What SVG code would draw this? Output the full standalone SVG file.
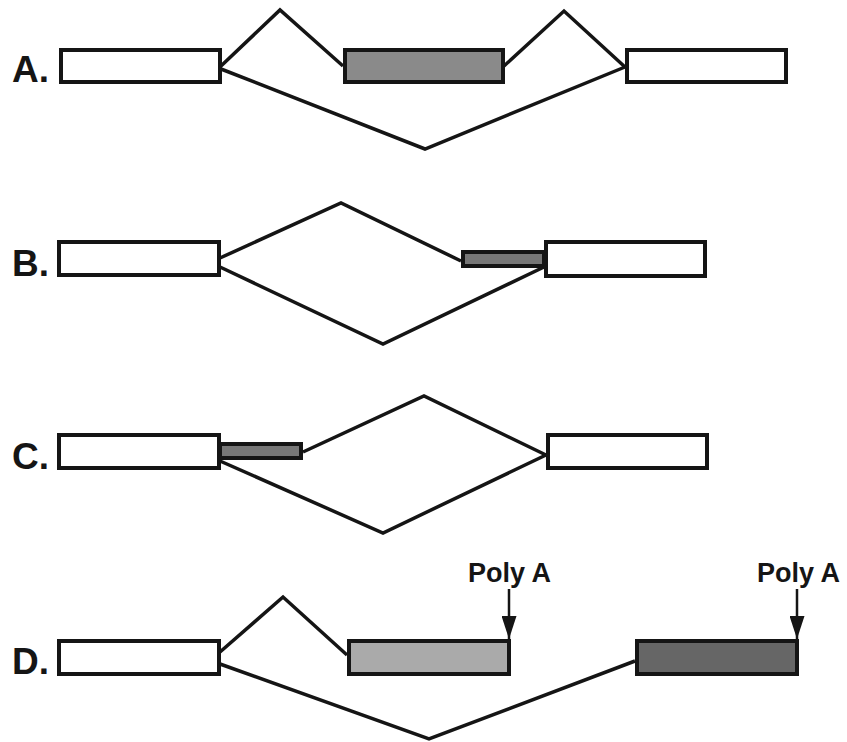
<svg xmlns="http://www.w3.org/2000/svg" width="847" height="742" viewBox="0 0 847 742">
<style>
.box{stroke:#151515;stroke-width:4}
.w{fill:#fff}
.g1{fill:#8a8a8a}
.g2{fill:#777}
.g3{fill:#aaa}
.g4{fill:#666}
.ln{fill:none;stroke:#151515;stroke-width:3.5;stroke-linejoin:miter}
.lbl{font-family:"Liberation Sans",Arial,sans-serif;font-weight:bold;font-size:37px;fill:#151515}
.pa{font-family:"Liberation Sans",Arial,sans-serif;font-weight:bold;font-size:27px;fill:#151515}
</style>
<defs>
<marker id="ah" markerWidth="23" markerHeight="15" refX="23" refY="7.5" orient="auto" markerUnits="userSpaceOnUse" viewBox="0 0 23 15"><path d="M0,0 L23,7.5 L0,15 Z" fill="#151515"/></marker>
</defs>
<g id="connectors">
<polyline class="ln" points="221,66 280,10 343,66"/>
<polyline class="ln" points="504,66 564,11 625,67"/>
<polyline class="ln" points="221,69 425,149 625,67"/>
<polyline class="ln" points="220,258 341,203 461,261"/>
<polyline class="ln" points="220,267 383,344 544,267"/>
<polyline class="ln" points="303,452 424,396 546,455"/>
<polyline class="ln" points="220,461 383,533 546,455"/>
<polyline class="ln" points="220,652 283,597 347,655"/>
<polyline class="ln" points="220,664 429,739 635,661"/>
</g>
<g id="labelA"><text class="lbl" x="12" y="82">A.</text></g>
<g id="labelB"><text class="lbl" x="12" y="276">B.</text></g>
<g id="labelC"><text class="lbl" x="12" y="469">C.</text></g>
<g id="labelD"><text class="lbl" x="12" y="674">D.</text></g>
<g id="A1"><rect class="box w" x="61" y="50" width="159" height="32"/></g>
<g id="A2"><rect class="box g1" x="345" y="50" width="158" height="32"/></g>
<g id="A3"><rect class="box w" x="627" y="50" width="159" height="32"/></g>
<g id="B1"><rect class="box w" x="59" y="242" width="160" height="33"/></g>
<g id="B2"><rect class="box g2" x="463" y="252" width="81" height="14"/></g>
<g id="B3"><rect class="box w" x="546" y="242" width="159" height="34"/></g>
<g id="C1"><rect class="box w" x="59" y="435" width="160" height="33"/></g>
<g id="C2"><rect class="box g2" x="220" y="444" width="81" height="14"/></g>
<g id="C3"><rect class="box w" x="548" y="435" width="159" height="33"/></g>
<g id="D1"><rect class="box w" x="59" y="641" width="160" height="33"/></g>
<g id="D2"><rect class="box g3" x="349" y="641" width="160" height="33"/></g>
<g id="D3"><rect class="box g4" x="637" y="641" width="160" height="33"/></g>
<g id="polyA1">
<text class="pa" x="468" y="582">Poly A</text>
<line x1="509" y1="589" x2="509" y2="639" stroke="#151515" stroke-width="2.5" marker-end="url(#ah)"/>
</g>
<g id="polyA2">
<text class="pa" x="757" y="582">Poly A</text>
<line x1="797" y1="589" x2="797" y2="639" stroke="#151515" stroke-width="2.5" marker-end="url(#ah)"/>
</g>
</svg>
